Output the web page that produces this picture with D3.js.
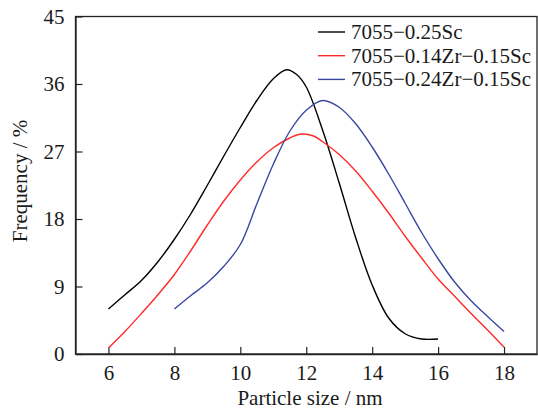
<!DOCTYPE html>
<html>
<head>
  <meta charset="UTF-8">
  <script src="https://d3js.org/d3.v7.min.js"></script>
</head>
<body style="margin:0;background:#fff">
  <svg width="538" height="412"></svg>

  <script>
    const FONT = "'Liberation Serif', monospace";

    // Series names (legend)
    const seriesNames = ["7055\u22120.25Sc", "7055\u22120.14Zr\u22120.15Sc", "7055\u22120.24Zr\u22120.15Sc"];
    const seriesColors = ["#000000", "#ff2b2b", "#3b48a0"];

    // 7055-0.25Sc
    const sizeA = [6, 6.5, 7, 7.5, 8, 8.5, 9, 9.5, 10, 10.5, 11, 11.4, 11.7, 12, 12.5, 13, 13.5, 14, 14.5, 15, 15.5, 16];
    const freqA = [6.0, 7.9, 9.8, 12.3, 15.3, 18.7, 22.5, 26.4, 30.2, 33.8, 36.7, 37.9, 37.3, 35.6, 29.8, 22.8, 15.5, 9.2, 4.8, 2.7, 2.0, 2.0];

    // 7055-0.14Zr-0.15Sc
    const sizeB = [6, 6.5, 7, 7.5, 8, 8.5, 9, 9.5, 10, 10.5, 11, 11.5, 11.8, 12.2, 12.5, 13, 13.5, 14, 14.5, 15, 15.5, 16, 16.5, 17, 17.5, 18];
    const freqB = [0.8, 3.0, 5.4, 7.9, 10.6, 13.8, 17.2, 20.4, 23.2, 25.6, 27.5, 28.8, 29.3, 29.1, 28.3, 26.6, 24.4, 21.7, 18.8, 15.7, 12.8, 10.0, 7.7, 5.4, 3.2, 0.9];

    // 7055-0.24Zr-0.15Sc
    const sizeC = [8, 8.5, 9, 9.5, 10, 10.5, 11, 11.5, 12, 12.5, 13, 13.5, 14, 14.5, 15, 15.5, 16, 16.5, 17, 17.5, 18];
    const freqC = [6.0, 7.8, 9.5, 11.7, 14.6, 20.0, 25.3, 29.7, 32.5, 33.8, 32.9, 30.7, 27.6, 24.0, 20.1, 16.2, 12.7, 9.6, 7.1, 5.0, 3.0];

    const xTicks = [6, 8, 10, 12, 14, 16, 18];
    const yTicks = [0, 9, 18, 27, 36, 45];

    const series = [
      { name: seriesNames[0], color: seriesColors[0], values: sizeA.map((s, i) => ({ x: s, y: freqA[i] })) },
      { name: seriesNames[1], color: seriesColors[1], values: sizeB.map((s, i) => ({ x: s, y: freqB[i] })) },
      { name: seriesNames[2], color: seriesColors[2], values: sizeC.map((s, i) => ({ x: s, y: freqC[i] })) }
    ];

    const svg = d3.select("svg"),
          margin = { top: 16.5, right: 1, bottom: 58, left: 75.5 },
          width = +svg.attr("width") - margin.left - margin.right,
          height = +svg.attr("height") - margin.top - margin.bottom,
          g = svg.append("g").attr("transform", "translate(" + margin.left + "," + margin.top + ")");

    const x = d3.scaleLinear().domain([5, 19]).range([0, width]);
    const y = d3.scaleLinear().domain([0, 45]).range([height, 0]);

    // frame
    g.append("rect")
      .attr("width", width)
      .attr("height", height)
      .attr("fill", "none")
      .attr("stroke", "#222")
      .attr("stroke-width", 1.3);

    // axes (ticks point inward)
    const xAxis = g.append("g")
      .attr("transform", "translate(0," + height + ")")
      .call(d3.axisBottom(x).tickValues(xTicks).tickSizeInner(-7).tickSizeOuter(0).tickPadding(11));

    const yAxis = g.append("g")
      .call(d3.axisLeft(y).tickValues(yTicks).tickSizeInner(-7).tickSizeOuter(0).tickPadding(11));

    [xAxis, yAxis].forEach(a => {
      a.attr("font-family", FONT).attr("font-size", 21);
      a.select(".domain").attr("stroke", "#222").attr("stroke-width", 1.3);
      a.selectAll(".tick line").attr("stroke", "#222").attr("stroke-width", 1.2);
      a.selectAll(".tick text").attr("fill", "#1a1a1a");
    });

    // curves
    const line = d3.line()
      .x(d => x(d.x))
      .y(d => y(d.y))
      .curve(d3.curveCatmullRom.alpha(0.5));

    g.selectAll(".series")
      .data(series)
      .enter().append("path")
      .attr("class", "series")
      .attr("fill", "none")
      .attr("stroke", d => d.color)
      .attr("stroke-width", 1.4)
      .attr("d", d => line(d.values));

    // legend
    const legend = svg.append("g")
      .attr("transform", "translate(318,32)")
      .attr("font-family", FONT)
      .attr("font-size", 21);
    series.forEach((s, i) => {
      const row = legend.append("g").attr("transform", "translate(0," + i * 23.7 + ")");
      row.append("line")
        .attr("x1", 0).attr("x2", 27)
        .attr("stroke", s.color)
        .attr("stroke-width", 1.4);
      row.append("text")
        .attr("x", 33)
        .attr("y", 7)
        .attr("fill", "#1a1a1a")
        .text(s.name);
    });

    // axis titles
    svg.append("text")
      .attr("x", 310)
      .attr("y", 405)
      .attr("text-anchor", "middle")
      .attr("font-family", FONT)
      .attr("font-size", 21)
      .attr("fill", "#1a1a1a")
      .text("Particle size / nm");

    svg.append("text")
      .attr("transform", "translate(27,181) rotate(-90)")
      .attr("text-anchor", "middle")
      .attr("font-family", FONT)
      .attr("font-size", 21)
      .attr("fill", "#1a1a1a")
      .text("Frequency / %");
  </script>
</body>
</html>
